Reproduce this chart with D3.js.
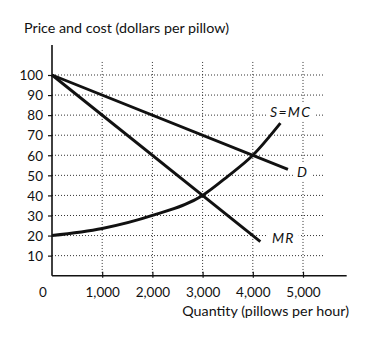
<!DOCTYPE html>
<html>
<head>
<meta charset="utf-8">
<script src="https://cdn.jsdelivr.net/npm/d3@7"></script>
<style>
  html, body { margin: 0; padding: 0; background: #fff; }
  svg { display: block; font-family: Lato, "Open Sans", sans-serif; }
</style>
</head>
<body>
<svg id="chart" width="370" height="340"></svg>
<script>
// Price ticks (dollars per pillow) and quantity ticks (pillows per hour)
const priceTicks = [10, 20, 30, 40, 50, 60, 70, 80, 90, 100];
const quantityTicks = [1000, 2000, 3000, 4000, 5000];

// Demand curve D (linear)
const demandQ = [0, 4700];
const demandP = [100, 53];

// Marginal revenue MR (linear, twice the slope of demand)
const mrQ = [0, 4150];
const mrP = [100, 17];

// Supply = marginal cost, rising at an increasing rate
const mcQ = [0, 1000, 2000, 3000, 3500, 4000, 4550];
const mcP = [20, 23.5, 30, 40, 49.5, 60, 76];

const svg = d3.select("#chart");

const x = d3.scaleLinear().domain([0, 5000]).range([52, 303]);
const y = d3.scaleLinear().domain([0, 100]).range([275.7, 75]);

const ink = "#111";
const tickFont = 13.5;

// Dotted grid
const grid = svg.append("g").attr("stroke", "#333").attr("stroke-width", 1)
  .attr("stroke-dasharray", "1,2");
grid.selectAll("line.h").data(priceTicks).join("line")
  .attr("x1", x(0)).attr("x2", x(5400))
  .attr("y1", d => y(d)).attr("y2", d => y(d));
grid.selectAll("line.v").data(quantityTicks).join("line")
  .attr("x1", d => x(d)).attr("x2", d => x(d))
  .attr("y1", y(106.5)).attr("y2", y(0));

// Axes
const yAxis = d3.axisLeft(y).tickValues(priceTicks).tickSize(4).tickSizeOuter(0);
const yg = svg.append("g").attr("transform", `translate(${x(0)},0)`).call(yAxis);
yg.select(".domain").attr("d", `M0,${y(0)}V${y(115)}`).attr("stroke", ink).attr("stroke-width", 1.6);
yg.selectAll(".tick line").attr("stroke", ink).attr("stroke-width", 1.2);
yg.selectAll(".tick text").attr("x", -9).attr("dy", "0.35em")
  .attr("font-size", tickFont).attr("font-family", "Lato, sans-serif").attr("fill", ink);

const xAxis = d3.axisBottom(x).tickValues(quantityTicks).tickSize(0).tickSizeOuter(0)
  .tickFormat(d3.format(","));
const xg = svg.append("g").attr("transform", `translate(0,${y(0)})`).call(xAxis);
xg.select(".domain").attr("d", `M${x(0)},0H${x(5870)}`).attr("stroke", ink).attr("stroke-width", 1.6);
xg.selectAll(".tick line").attr("y1", -4).attr("y2", 2).attr("stroke", ink).attr("stroke-width", 1.2);
xg.selectAll(".tick text").attr("y", 21).attr("dy", 0)
  .attr("font-size", tickFont).attr("font-family", "Lato, sans-serif").attr("fill", ink);

// Origin label
svg.append("text").attr("x", 43).attr("y", y(0) + 21).attr("text-anchor", "middle")
  .attr("font-size", tickFont).attr("fill", ink).text("0");

// Axis titles
svg.append("text").attr("x", 24).attr("y", 33)
  .attr("font-size", 14.3).attr("fill", ink).text("Price and cost (dollars per pillow)");
svg.append("text").attr("x", 349).attr("y", 316).attr("text-anchor", "end")
  .attr("font-size", 14.3).attr("fill", ink).text("Quantity (pillows per hour)");

// Curves
const line = d3.line().x(d => x(d[0])).y(d => y(d[1]));
const smooth = d3.line().x(d => x(d[0])).y(d => y(d[1])).curve(d3.curveMonotoneX);

const curves = svg.append("g").attr("fill", "none").attr("stroke", ink)
  .attr("stroke-width", 2.9).attr("stroke-linecap", "butt");
curves.append("path").attr("d", line(d3.zip(demandQ, demandP)));
curves.append("path").attr("d", line(d3.zip(mrQ, mrP)));
curves.append("path").attr("d", smooth(d3.zip(mcQ, mcP)));

// Curve labels, each on a white patch that interrupts the grid
const lab = svg.append("g");
function curveLabel(px, py, txt, spacing) {
  const g = lab.append("g");
  const bg = g.append("rect").attr("fill", "#fff");
  const t = g.append("text").attr("x", px).attr("y", py)
    .attr("font-size", 14).attr("font-style", "italic").attr("fill", ink)
    .attr("letter-spacing", spacing).text(txt);
  const b = t.node().getBBox();
  bg.attr("x", b.x - 4).attr("y", b.y).attr("width", b.width + 8).attr("height", b.height);
}
curveLabel(270, 117, "S=MC", 1.3);
curveLabel(297, 177, "D", 0);
curveLabel(272, 243, "MR", 1.3);
</script>
</body>
</html>
